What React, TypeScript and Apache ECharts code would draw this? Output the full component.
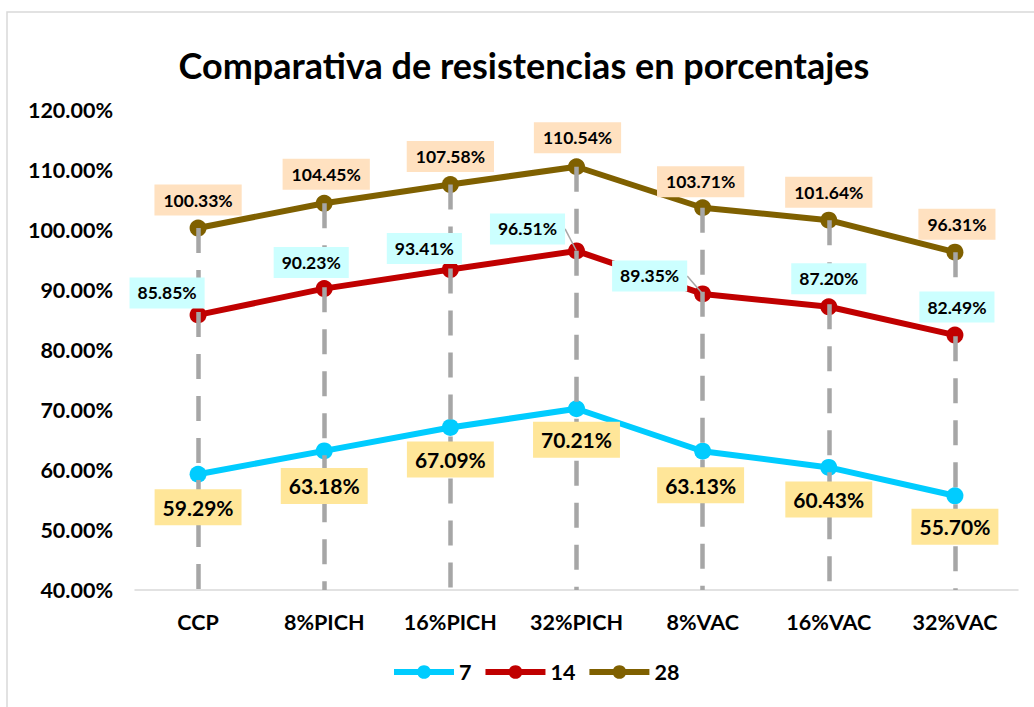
import React, { useEffect, useRef } from "react";
import * as echarts from "echarts";

const categories = ["CCP", "8%PICH", "16%PICH", "32%PICH", "8%VAC", "16%VAC", "32%VAC"];
const s7 = [59.29, 63.18, 67.09, 70.21, 63.13, 60.43, 55.7];
const s14 = [85.85, 90.23, 93.41, 96.51, 89.35, 87.2, 82.49];
const s28 = [100.33, 104.45, 107.58, 110.54, 103.71, 101.64, 96.31];
const seriesNames = ["7", "14", "28"];
const yTicks = { min: 40, max: 120, interval: 10 };

// label offsets (label centre minus point), pixels
const off7 = [[0, 33], [0, 35], [0, 32], [0, 31], [-2, 34], [0, 32], [0, 31]];
const off14 = [[-31, -22], [-13, -26], [-26, -21], [-49, -22], [-53, -18], [0, -28], [2, -28]];
const off28 = [[0, -28], [2, -29], [0, -28], [1, -29], [-2, -26], [0, -28], [2, -28]];
const leader14 = [false, false, false, true, true, false, false];

const FONT = "Lato, 'Open Sans', sans-serif";

export default function App() {
  const ref = useRef<HTMLDivElement>(null);
  useEffect(() => {
    const chart = echarts.init(ref.current!, null, { renderer: "svg" });
    const fmt = (p: any) => {
      const v = Array.isArray(p.value) ? p.value[1] : p.value;
      return Number(v).toFixed(2) + "%";
    };
    const mkLabel = (bg: string, size: number, pad: number[]) => ({
      show: true,
      position: "inside",
      formatter: fmt,
      color: "#000",
      opacity: 1,
      fontFamily: FONT,
      fontWeight: "bold",
      fontSize: size,
      backgroundColor: bg,
      padding: pad,
      align: "center",
      verticalAlign: "middle",
    });
    const layoutFrom = (offs: number[][]) => (params: any) => ({
      dx: offs[params.dataIndex][0],
      dy: offs[params.dataIndex][1],
    });
    const lineSeries = (name: string, data: number[], color: string, z: number) => ({
      name,
      type: "line",
      data,
      symbol: "circle",
      symbolSize: 17,
      color,
      lineStyle: { width: 6, color },
      label: { show: false },
      z,
    });
    const labelSeries = (name: string, data: any[], label: any, offs: number[][], extra: any = {}) => ({
      name,
      type: "scatter",
      data: data.map((d, i) => (typeof d === "number" ? [i, d] : d)),
      symbolSize: 1,
      itemStyle: { color: "rgba(0,0,0,0)" },
      label,
      labelLayout: layoutFrom(offs),
      silent: true,
      z: 6,
      ...extra,
    });
    const option: any = {
      animation: false,
      backgroundColor: "#fff",
      title: {
        text: "Comparativa de resistencias en porcentajes",
        top: 42,
        left: 519,
        textAlign: "center",
        textStyle: { fontFamily: FONT, fontWeight: "bold", fontSize: 36, color: "#000" },
      },
      graphic: [
        {
          type: "rect",
          shape: { x: 7, y: 12, width: 1040, height: 710 },
          style: { fill: "none", stroke: "#D9D9D9", lineWidth: 1.5 },
          silent: true,
          z: -1,
        },
      ],
      grid: { left: 135, right: 16, top: 110, bottom: 117, containLabel: false },
      legend: {
        bottom: 19,
        left: 386,
        itemWidth: 60,
        itemHeight: 17,
        itemGap: 11,
        data: seriesNames,
        lineStyle: { width: 6 },
        textStyle: { fontFamily: FONT, fontWeight: "bold", fontSize: 21.5, color: "#000" },
      },
      xAxis: {
        type: "category",
        data: categories,
        boundaryGap: true,
        axisLine: { lineStyle: { color: "#D9D9D9", width: 1.5 } },
        axisTick: { show: false },
        axisLabel: { fontFamily: FONT, fontWeight: "bold", fontSize: 21.5, color: "#000", margin: 21 },
      },
      yAxis: {
        type: "value",
        min: yTicks.min,
        max: yTicks.max,
        interval: yTicks.interval,
        splitLine: { show: false },
        axisLine: { show: false },
        axisTick: { show: false },
        axisLabel: {
          fontFamily: FONT,
          fontWeight: "bold",
          fontSize: 21.5,
          color: "#000",
          margin: 22,
          formatter: (v: number) => v.toFixed(2) + "%",
        },
      },
      series: [
        lineSeries(seriesNames[0], s7, "#00CCFF", 2),
        lineSeries(seriesNames[1], s14, "#C00000", 3),
        {
          ...lineSeries(seriesNames[2], s28, "#7F6000", 4),
          markLine: {
            silent: true,
            symbol: "none",
            label: { show: false },
            lineStyle: { color: "#A6A6A6", width: 4.5, type: [25, 17], opacity: 1 },
            data: s28.map((v, i) => [
              { coord: [i, v] },
              { coord: [i, yTicks.min] },
            ]),
            z: 5,
          },
        },
        labelSeries("lbl7", s7, mkLabel("#FFE699", 21, [8, 8, 7, 8]), off7),
        labelSeries(
          "lbl14",
          s14.map((v, i) => ({ value: [i, v], labelLine: leader14[i] ? { show: true } : undefined })),
          mkLabel("#CCFFFF", 17.5, [7, 8, 6, 8]),
          off14,
          { labelLine: { show: false, lineStyle: { color: "#A6A6A6", width: 1.5 } } }
        ),
        labelSeries("lbl28", s28, mkLabel("#FFE1C0", 17.5, [7, 9, 6, 9]), off28),
      ],
    };
    chart.setOption(option);
    return () => chart.dispose();
  }, []);
  return (
    <div
      ref={ref}
      style={{ position: "fixed", left: 0, top: 0, width: 1034, height: 707, background: "#fff" }}
    />
  );
}
